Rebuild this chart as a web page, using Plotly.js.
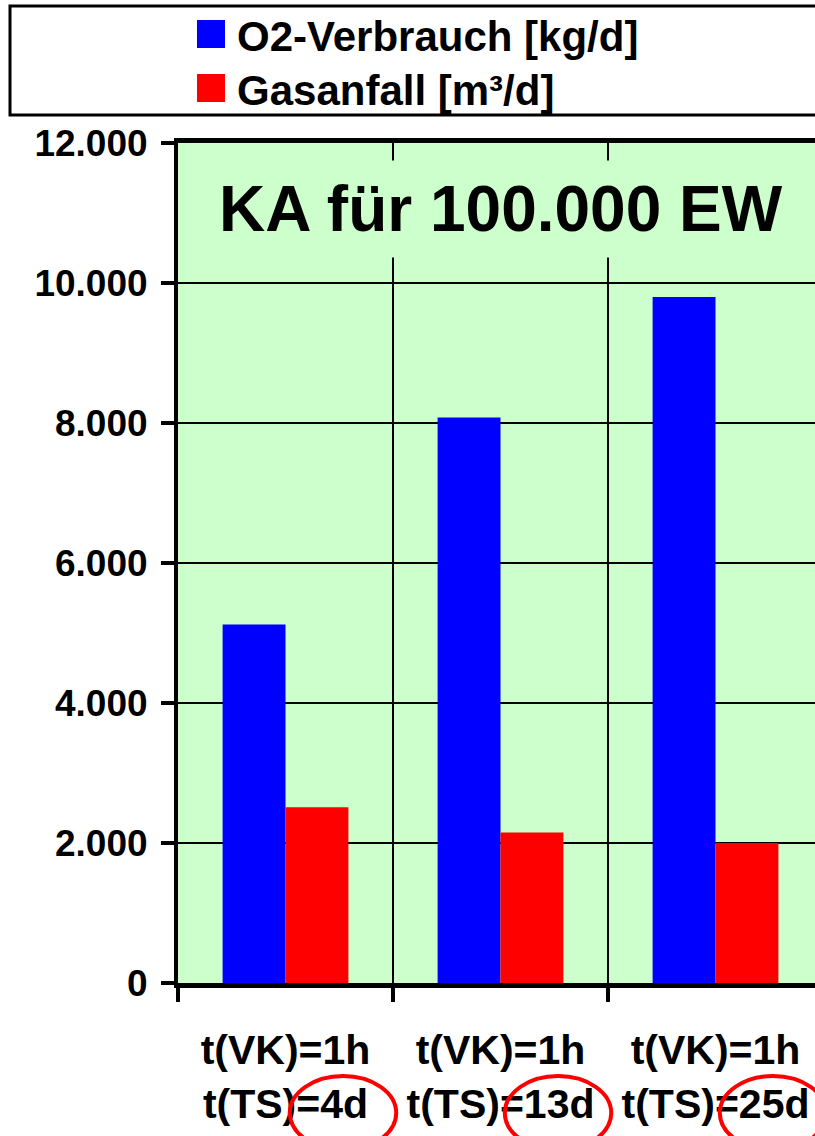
<!DOCTYPE html>
<html>
<head>
<meta charset="utf-8">
<script src="https://cdn.plot.ly/plotly-3.0.1.min.js"></script>
<style>
html, body { margin: 0; padding: 0; background: #ffffff; overflow: hidden; }
#chart { width: 815px; height: 1136px; }
</style>
</head>
<body>
<div id="chart"></div>
<script>
// ---- data ----
const categories = ['t(VK)=1h<br>t(TS)=4d', 't(VK)=1h<br>t(TS)=13d', 't(VK)=1h<br>t(TS)=25d'];
const o2Values = [5120, 8080, 9800];
const gasValues = [2510, 2150, 2000];
const seriesNames = ['O2-Verbrauch [kg/d]', 'Gasanfall [m³/d]'];
const seriesColors = ['#0000ff', '#ff0000'];
const yTickValues = [0, 2000, 4000, 6000, 8000, 10000, 12000];
const chartTitle = 'KA für 100.000 EW';

// ---- geometry helpers (layout only) ----
const W = 815, H = 1136;
const mL = 178, mT = 143, mB = 153, mR = 0;
const plotW = W - mL - mR, plotH = H - mT - mB;
const catW = 215;
const xMax = -0.5 + plotW / catW;
const px2paperX = p => (p - mL) / plotW;
const py2paperY = p => (H - mB - p) / plotH;

const FONT = 'Liberation Sans, Arial, Helvetica, sans-serif';

const traces = [
  { type: 'bar', name: seriesNames[0], x: categories, y: o2Values,
    marker: { color: seriesColors[0], line: { width: 0 } } },
  { type: 'bar', name: seriesNames[1], x: categories, y: gasValues,
    marker: { color: seriesColors[1], line: { width: 0 } } }
];

// highlight ellipses around the t(TS) value of each category
const ellipses = categories.map((c, i) => ({
  type: 'circle', xref: 'x', yref: 'paper',
  x0: i + 0.02, x1: i + 0.515,
  y0: py2paperY(1150), y1: py2paperY(1076),
  line: { color: '#ff0000', width: 4 }, fillcolor: 'rgba(0,0,0,0)'
}));

// legend drawn as shapes + annotations (large swatches like the reference)
const legendRowY = [34, 88];
const legendSwatches = seriesNames.map((n, i) => ({
  type: 'rect', xref: 'paper', yref: 'paper',
  x0: px2paperX(197), x1: px2paperX(225),
  y0: py2paperY(legendRowY[i] + 14), y1: py2paperY(legendRowY[i] - 14),
  line: { width: 0 }, fillcolor: seriesColors[i], layer: 'above'
}));
const legendLabels = seriesNames.map((n, i) => ({
  text: n, xref: 'paper', yref: 'paper',
  x: px2paperX(235), y: py2paperY(legendRowY[i] + 2), xanchor: 'left', yanchor: 'middle',
  showarrow: false,
  font: { family: FONT, size: 42, color: '#000000', weight: 'bold' }
}));

const layout = {
  width: W, height: H,
  margin: { l: mL, r: mR, t: mT, b: mB, autoexpand: false },
  paper_bgcolor: '#ffffff',
  plot_bgcolor: '#ccffcc',
  separators: ',.',
  barmode: 'group',
  bargap: 0.415,
  bargroupgap: 0,
  showlegend: false,
  xaxis: {
    type: 'category', range: [-0.5, xMax], fixedrange: true,
    tickson: 'boundaries', ticks: 'outside', ticklen: 14, tickwidth: 4, tickcolor: '#000000',
    showgrid: true, gridcolor: '#000000', gridwidth: 1.5,
    showline: true, linecolor: '#000000', linewidth: 5, mirror: true,
    tickfont: { family: FONT, size: 41, color: '#000000', weight: 'bold' },
    ticklabelstandoff: 27
  },
  yaxis: {
    range: [0, 12000], fixedrange: true,
    tickmode: 'array', tickvals: yTickValues, tickformat: ',d',
    ticks: 'outside', ticklen: 13, tickwidth: 4, tickcolor: '#000000',
    showgrid: true, gridcolor: '#000000', gridwidth: 1.5, zeroline: false,
    showline: true, linecolor: '#000000', linewidth: 4,
    tickfont: { family: FONT, size: 37, color: '#000000', weight: 'bold' },
    ticklabelstandoff: 6
  },
  shapes: [
    { type: 'rect', xref: 'paper', yref: 'paper',
      x0: px2paperX(10), x1: px2paperX(840), y0: py2paperY(115), y1: py2paperY(6),
      line: { color: '#000000', width: 3 }, fillcolor: 'rgba(0,0,0,0)', layer: 'above' }
  ].concat(legendSwatches, ellipses),
  annotations: [
    { text: chartTitle, xref: 'paper', yref: 'paper',
      x: px2paperX(501), y: py2paperY(209), xanchor: 'center', yanchor: 'middle',
      showarrow: false, bgcolor: '#ccffcc', borderpad: 12,
      font: { family: FONT, size: 64, color: '#000000', weight: 'bold' } }
  ].concat(legendLabels)
};

Plotly.newPlot('chart', traces, layout, { displayModeBar: false, staticPlot: true });
</script>
</body>
</html>
